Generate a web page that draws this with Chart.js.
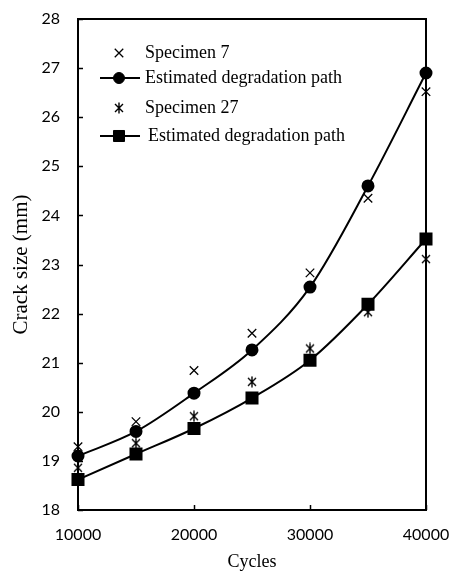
<!DOCTYPE html>
<html>
<head>
<meta charset="utf-8">
<script src="https://cdn.jsdelivr.net/npm/chart.js@4/dist/chart.umd.min.js"></script>
<style>
    html, body { margin: 0; padding: 0; background: #fff; }
    #wrap { width: 455px; height: 574px; }
</style>
</head>
<body>
<div id="wrap"><canvas id="crackChart" width="455" height="574"></canvas></div>
<script>
// Crack growth data
const cycles = [10000, 15000, 20000, 25000, 30000, 35000, 40000];
const specimen7 = [19.29, 19.8, 20.84, 21.6, 22.83, 24.35, 26.52];
const path7 = [19.1, 19.6, 20.38, 21.26, 22.54, 24.6, 26.9];
const specimen27 = [18.86, 19.36, 19.91, 20.61, 21.29, 22.03, 23.11];
const path27 = [18.62, 19.14, 19.66, 20.28, 21.05, 22.19, 23.52];

const yTicks = [18, 19, 20, 21, 22, 23, 24, 25, 26, 27, 28];
const xTicks = [10000, 20000, 30000, 40000];

// Excel style asterisk marker: an x with a vertical stroke
function makeAsterisk() {
    const c = document.createElement('canvas');
    c.width = 12;
    c.height = 12;
    const g = c.getContext('2d');
    g.strokeStyle = '#000';
    g.lineWidth = 1.4;
    g.beginPath();
    g.moveTo(2, 2); g.lineTo(10, 10);
    g.moveTo(10, 2); g.lineTo(2, 10);
    g.moveTo(6, 0.5); g.lineTo(6, 11.5);
    g.stroke();
    return c;
}
const asterisk = makeAsterisk();

function toPoints(values) {
    return values.map((v, i) => ({ x: cycles[i], y: v }));
}

// Frame and inward tick marks
const frameTicks = {
    id: 'frameTicks',
    afterDatasetsDraw(chart) {
        const { ctx, chartArea: a, scales } = chart;
        ctx.save();
        ctx.strokeStyle = '#000';
        ctx.lineWidth = 1.5;
        yTicks.forEach(t => {
            const y = Math.round(scales.y.getPixelForValue(t)) + 0.5;
            ctx.beginPath();
            ctx.moveTo(a.left, y);
            ctx.lineTo(a.left + 5, y);
            ctx.stroke();
        });
        xTicks.forEach(t => {
            const x = Math.round(scales.x.getPixelForValue(t)) + 0.5;
            ctx.beginPath();
            ctx.moveTo(x, a.bottom);
            ctx.lineTo(x, a.bottom - 5);
            ctx.stroke();
        });
        ctx.lineWidth = 2;
        ctx.strokeRect(a.left, a.top, a.right - a.left, a.bottom - a.top);
        ctx.restore();
    }
};

// Legend inside the plot, line + marker samples
const innerLegend = {
    id: 'innerLegend',
    afterDraw(chart, args, opts) {
        const { ctx } = chart;
        ctx.save();
        ctx.font = '18px "Liberation Serif", "Times New Roman", serif';
        ctx.textBaseline = 'middle';
        ctx.fillStyle = '#000';
        chart.data.datasets.forEach((ds, i) => {
            const y = opts.rows[i];
            if (ds.showLine !== false) {
                ctx.strokeStyle = '#000';
                ctx.lineWidth = 2;
                ctx.beginPath();
                ctx.moveTo(opts.lineStart, y);
                ctx.lineTo(opts.lineEnd, y);
                ctx.stroke();
            }
            if (ds.pointStyle instanceof HTMLCanvasElement) {
                ctx.drawImage(ds.pointStyle, opts.markerX - 6, y - 6);
            } else {
                ctx.lineWidth = ds.pointBorderWidth || 1;
                ctx.strokeStyle = '#000';
                ctx.fillStyle = '#000';
                Chart.helpers.drawPoint(ctx, {
                    pointStyle: ds.pointStyle,
                    radius: ds.pointRadius,
                    borderWidth: ds.pointBorderWidth || 1,
                    rotation: 0
                }, opts.markerX, y);
            }
            ctx.fillStyle = '#000';
            ctx.fillText(ds.label, opts.textX[i], y);
        });
        ctx.restore();
    }
};

const ctx = document.getElementById('crackChart').getContext('2d');
const crackChart = new Chart(ctx, {
    type: 'line',
    data: {
        datasets: [
            {
                label: 'Specimen 7',
                data: toPoints(specimen7),
                showLine: false,
                pointStyle: 'crossRot',
                pointRadius: 6,
                pointBorderWidth: 1.3,
                borderColor: '#000',
                backgroundColor: '#000'
            },
            {
                label: 'Estimated degradation path',
                data: toPoints(path7),
                pointStyle: 'circle',
                pointRadius: 5.5,
                borderColor: '#000',
                backgroundColor: '#000',
                borderWidth: 2,
                cubicInterpolationMode: 'monotone'
            },
            {
                label: 'Specimen 27',
                data: toPoints(specimen27),
                showLine: false,
                pointStyle: asterisk,
                pointRadius: 6,
                borderColor: '#000',
                backgroundColor: '#000'
            },
            {
                label: 'Estimated degradation path',
                data: toPoints(path27),
                pointStyle: 'rect',
                pointRadius: 7.8,
                borderColor: '#000',
                backgroundColor: '#000',
                borderWidth: 2,
                cubicInterpolationMode: 'monotone'
            }
        ]
    },
    options: {
        responsive: false,
        animation: false,
        clip: false,
        layout: {
            padding: { top: 19, right: 29, left: 0, bottom: 0 }
        },
        scales: {
            x: {
                type: 'linear',
                min: 10000,
                max: 40000,
                grid: { display: false, drawTicks: false },
                border: { display: false },
                ticks: {
                    stepSize: 10000,
                    padding: 15,
                    color: '#000',
                    maxRotation: 0,
                    font: { family: 'Lato', size: 16 },
                    callback: value => String(value)
                },
                title: {
                    display: true,
                    text: 'Cycles',
                    color: '#000',
                    font: { family: '"Liberation Serif"', size: 18 },
                    padding: { top: 0, bottom: 1 }
                },
                afterFit: scale => {
                    scale.height = 64;
                    scale.paddingLeft = 0;
                    scale.paddingRight = 0;
                }
            },
            y: {
                min: 18,
                max: 28,
                grid: { display: false, drawTicks: false },
                border: { display: false },
                ticks: {
                    stepSize: 1,
                    padding: 18,
                    color: '#000',
                    font: { family: 'Lato', size: 16 }
                },
                title: {
                    display: true,
                    text: 'Crack size (mm)',
                    color: '#000',
                    font: { family: '"Liberation Serif"', size: 21 },
                    padding: { top: 9, bottom: 0 }
                },
                afterFit: scale => {
                    scale.width = 78;
                    scale.paddingTop = 0;
                    scale.paddingBottom = 0;
                }
            }
        },
        plugins: {
            legend: { display: false },
            tooltip: { enabled: false },
            innerLegend: {
                rows: [53, 78, 108, 136],
                markerX: 119,
                lineStart: 100,
                lineEnd: 140,
                textX: [145, 145, 145, 148]
            }
        }
    },
    plugins: [frameTicks, innerLegend]
});
</script>
</body>
</html>
